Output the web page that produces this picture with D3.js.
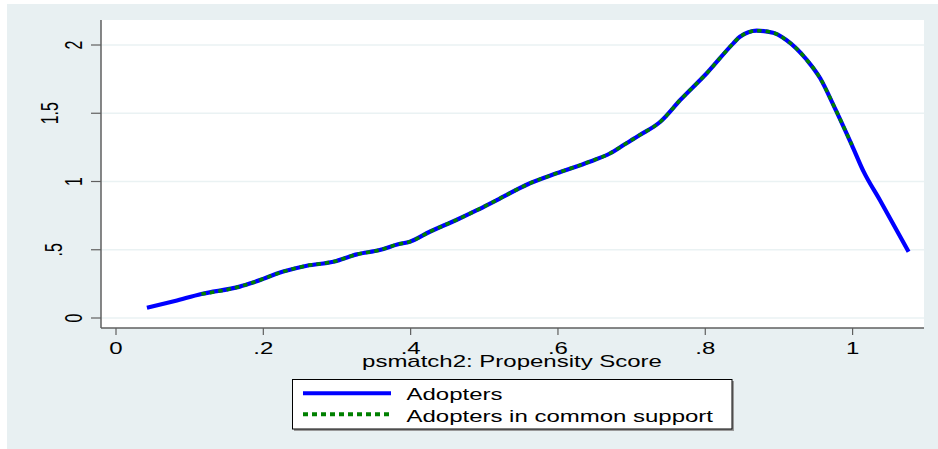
<!DOCTYPE html>
<html>
<head>
<meta charset="utf-8">
<script src="https://cdn.jsdelivr.net/npm/d3@7"></script>
<style>
  html, body { margin: 0; padding: 0; background: #fff; }
  svg { display: block; font-family: Arial, "Liberation Sans", sans-serif; }
</style>
</head>
<body>
<div id="chart"></div>
<script>
// kernel density of the propensity score
const adoptersX = [0.042, 0.08, 0.116, 0.168, 0.186, 0.227, 0.259, 0.295, 0.327, 0.358, 0.383, 0.399, 0.426, 0.462, 0.49, 0.517, 0.562, 0.598, 0.643, 0.671, 0.689, 0.711, 0.739, 0.766, 0.802, 0.838, 0.847, 0.87, 0.892, 0.91, 0.938, 0.956, 0.974, 0.999, 1.015, 1.037, 1.076];
const adoptersY = [0.075, 0.125, 0.176, 0.23, 0.26, 0.34, 0.383, 0.412, 0.466, 0.498, 0.54, 0.559, 0.632, 0.718, 0.79, 0.864, 0.987, 1.06, 1.145, 1.207, 1.267, 1.34, 1.438, 1.597, 1.793, 2.012, 2.06, 2.105, 2.09, 2.037, 1.89, 1.756, 1.56, 1.267, 1.072, 0.864, 0.486];

const supportX = [0.116, 0.168, 0.186, 0.227, 0.259, 0.295, 0.327, 0.358, 0.383, 0.399, 0.426, 0.462, 0.49, 0.517, 0.562, 0.598, 0.643, 0.671, 0.689, 0.711, 0.739, 0.766, 0.802, 0.838, 0.847, 0.87, 0.892, 0.91, 0.938, 0.956, 0.974, 0.999];
const supportY = [0.176, 0.23, 0.26, 0.34, 0.383, 0.412, 0.466, 0.498, 0.54, 0.559, 0.632, 0.718, 0.79, 0.864, 0.987, 1.06, 1.145, 1.207, 1.267, 1.34, 1.438, 1.597, 1.793, 2.012, 2.06, 2.105, 2.09, 2.037, 1.89, 1.756, 1.56, 1.267];

const xTicks = [0, 0.2, 0.4, 0.6, 0.8, 1];
const xTickLabels = ['0', '.2', '.4', '.6', '.8', '1'];
const yTicks = [0, 0.5, 1, 1.5, 2];
const yTickLabels = ['0', '.5', '1', '1.5', '2'];
const seriesNames = ['Adopters', 'Adopters in common support'];
const xTitle = 'psmatch2: Propensity Score';

const width = 938, height = 449;
const stretch = 1.5;   // the original graph is stretched sideways, text too
const bg = '#e8f0f2';

const svg = d3.select('#chart').append('svg')
  .attr('width', width)
  .attr('height', height)
  .attr('viewBox', [0, 0, width, height]);

// outer graph region
svg.append('rect').attr('x', 7).attr('y', 4).attr('width', width - 7).attr('height', height - 4).attr('fill', bg);

// plot region
const plot = { left: 101, right: 924, top: 20, bottom: 328 };
svg.append('rect')
  .attr('x', plot.left).attr('y', plot.top)
  .attr('width', plot.right - plot.left).attr('height', plot.bottom - plot.top)
  .attr('fill', '#fff');

const x = d3.scaleLinear().domain([0, 1]).range([116, 852.6]);
const y = d3.scaleLinear().domain([0, 2]).range([318, 45]);

// grid
svg.append('g').selectAll('line')
  .data(yTicks)
  .join('line')
  .attr('x1', plot.left).attr('x2', plot.right)
  .attr('y1', d => y(d)).attr('y2', d => y(d))
  .attr('stroke', '#eaf2f3')
  .attr('stroke-width', 1.5);

// axes
const axisColor = '#5f5f5f';
svg.append('line')
  .attr('x1', plot.left).attr('x2', plot.left)
  .attr('y1', plot.top).attr('y2', plot.bottom)
  .attr('stroke', axisColor).attr('stroke-width', 1.5);
svg.append('line')
  .attr('x1', plot.left).attr('x2', plot.right)
  .attr('y1', plot.bottom).attr('y2', plot.bottom)
  .attr('stroke', axisColor).attr('stroke-width', 1.5);

svg.append('g').selectAll('line')
  .data(yTicks)
  .join('line')
  .attr('x1', plot.left - 10).attr('x2', plot.left)
  .attr('y1', d => y(d)).attr('y2', d => y(d))
  .attr('stroke', axisColor).attr('stroke-width', 1.2);

svg.append('g').selectAll('line')
  .data(xTicks)
  .join('line')
  .attr('x1', d => x(d)).attr('x2', d => x(d))
  .attr('y1', plot.bottom).attr('y2', plot.bottom + 7)
  .attr('stroke', axisColor).attr('stroke-width', 1.2);

// y tick labels, rotated (decimal ones sit further left in the original)
svg.append('g').selectAll('text')
  .data(yTicks)
  .join('text')
  .attr('transform', (d, i) => {
    const lab = yTickLabels[i];
    const bx = lab.length === 3 ? 58 : lab.length === 2 ? 62 : 82;
    return `translate(${bx},${y(d)}) scale(${stretch},1) rotate(-90)`;
  })
  .attr('text-anchor', 'middle')
  .attr('font-size', 16)
  .attr('fill', '#000')
  .text((d, i) => yTickLabels[i]);

// x tick labels
svg.append('g').selectAll('text')
  .data(xTicks)
  .join('text')
  .attr('transform', d => `translate(${x(d)},353.5) scale(${stretch},1)`)
  .attr('text-anchor', 'middle')
  .attr('font-size', 16)
  .attr('fill', '#000')
  .text((d, i) => xTickLabels[i]);

svg.append('text')
  .attr('transform', `translate(512,366.5) scale(${stretch},1)`)
  .attr('text-anchor', 'middle')
  .attr('font-size', 16)
  .attr('fill', '#000')
  .text(xTitle);

// curves
const line = d3.line()
  .x(d => x(d[0]))
  .y(d => y(d[1]))
  .curve(d3.curveMonotoneX);

const blue = '#0000ff', green = '#008000';

svg.append('path')
  .datum(d3.zip(adoptersX, adoptersY))
  .attr('d', line)
  .attr('fill', 'none')
  .attr('stroke', blue)
  .attr('stroke-width', 4.2)
  .attr('stroke-linejoin', 'round');

svg.append('path')
  .datum(d3.zip(supportX, supportY))
  .attr('d', line)
  .attr('fill', 'none')
  .attr('stroke', green)
  .attr('stroke-width', 3.5)
  .attr('stroke-dasharray', '4.5,4');

// legend
const legend = svg.append('g');
legend.append('rect')
  .attr('x', 294).attr('y', 381).attr('width', 440).attr('height', 50)
  .attr('fill', '#9a9a9a');
legend.append('rect')
  .attr('x', 292.5).attr('y', 379.5).attr('width', 439.5).attr('height', 49.5)
  .attr('fill', '#fff').attr('stroke', '#000').attr('stroke-width', 1);

const keys = [
  { name: seriesNames[0], color: blue, dash: null, ly: 393.3, ty: 400 },
  { name: seriesNames[1], color: green, dash: '5,4', ly: 414.3, ty: 421.5 }
];
legend.selectAll('line.key')
  .data(keys)
  .join('line')
  .attr('class', 'key')
  .attr('x1', 303).attr('x2', 391)
  .attr('y1', d => d.ly).attr('y2', d => d.ly)
  .attr('stroke', d => d.color)
  .attr('stroke-width', 4)
  .attr('stroke-dasharray', d => d.dash);
legend.selectAll('text')
  .data(keys)
  .join('text')
  .attr('transform', d => `translate(406.5,${d.ty}) scale(${stretch},1)`)
  .attr('font-size', 16)
  .attr('fill', '#000')
  .text(d => d.name);
</script>
</body>
</html>
